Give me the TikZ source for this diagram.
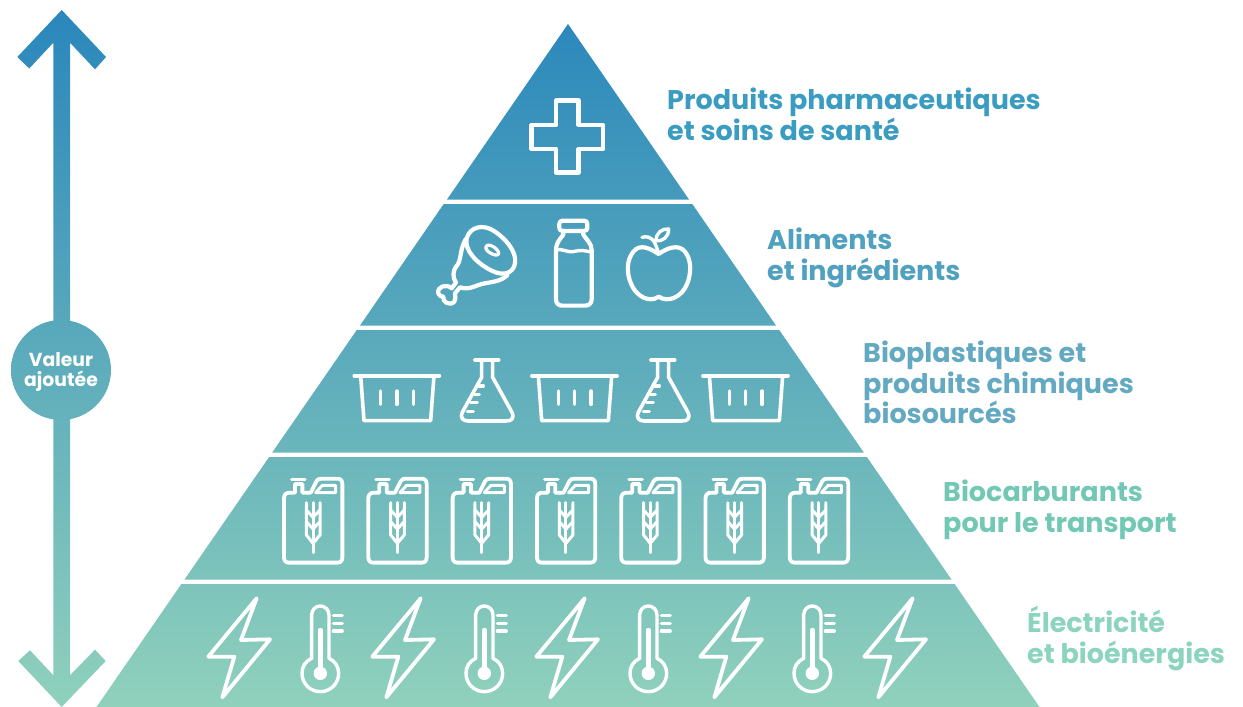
\documentclass[tikz,border=0pt]{standalone}
\usepackage{fontspec}
\setmainfont{Poppins}
\definecolor{gtop}{HTML}{2A87BC}
\definecolor{gmid}{HTML}{5EA6BF}
\definecolor{gbot}{HTML}{90D1BC}
\definecolor{lab1}{HTML}{3A9CC1}
\definecolor{lab2}{HTML}{4FA1BF}
\definecolor{lab3}{HTML}{64A9C2}
\definecolor{lab4}{HTML}{72C8B5}
\definecolor{lab5}{HTML}{8DD4BF}
\tikzset{
  ico/.style={draw=white,line width=#1,line join=round,line cap=round},
  ico/.default=4.2pt,
  lab/.style={anchor=north west,inner sep=0pt,align=left,font=\bfseries\fontsize{27}{30.5}\selectfont},
  zoomA/.style={shift={(420,80)},x=0.3333pt,y=-0.3333pt},
  zoomB/.style={shift={(340,340)},x=0.3333pt,y=-0.3333pt},
  zoomC/.style={shift={(190,590)},x=0.3333pt,y=-0.3333pt},
}
\newcommand{\basket}[1]{\begin{scope}[zoomB,xshift=#1pt]
 \draw[ico=3.8pt] (43,107)--(298,107);
 \draw[ico=3.6pt] (62,107)--(72,242)--(272,242)--(282,107);
 \foreach \x in {122,171,220}\draw[ico=3.4pt] (\x,153)--(\x,193);
\end{scope}}
\newcommand{\flask}[1]{\begin{scope}[zoomB,xshift=#1pt]
 \draw[ico=3.8pt] (405,60)--(476,60);
 \draw[ico=3.6pt] (425,60)--(425,112)--(368,215) .. controls (358,235) and (370,243) .. (385,243)--(498,243) .. controls (515,243) and (525,235) .. (515,215)--(458,112)--(458,60);
 \draw[ico=3.4pt] (412,138)--(430,138) (402,163)--(418,163) (392,187)--(412,187) (382,214)--(400,214);
\end{scope}}
\newcommand{\jerry}[1]{\begin{scope}[zoomB,xshift=#1pt]
 \draw[ico=3.2pt] (108,418)--(148,418);
 \draw[ico=3.8pt] (85,475) .. controls (85,463) and (92,458) .. (102,458)--(118,458)--(118,432)--(140,432)--(140,458)--(165,458)
   --(182,424) .. controls (185,418) and (190,416) .. (197,416)--(245,416) .. controls (255,416) and (260,422) .. (260,432)--(260,652)
   .. controls (260,662) and (255,668) .. (245,668)--(100,668) .. controls (90,668) and (85,662) .. (85,652)--cycle;
 \draw[ico=3pt] (180,458)--(240,458)--(240,436)--(200,436)--cycle;
 \draw[ico=3pt] (172,488)--(172,638);
 \draw[ico=3pt] (152,488)--(152,585)--(172,610)--(193,585)--(193,488);
 \draw[ico=3pt] (152,510)--(172,532)--(193,510) (152,545)--(172,567)--(193,545);
\end{scope}}
\newcommand{\bolt}[1]{\begin{scope}[zoomC,xshift=#1pt]
 \draw[ico=3.8pt] (200,25)--(55,200)--(133,200)--(97,322)--(240,148)--(153,150)--cycle;
\end{scope}}
\newcommand{\thermo}[1]{\begin{scope}[zoomC,xshift=#1pt]
 \draw[ico=3.4pt] (365,205)--(365,75) .. controls (365,58) and (378,48) .. (391,48) .. controls (404,48) and (417,58) .. (417,75)--(417,205)
   .. controls (436,214) and (446,230) .. (446,250) .. controls (446,282) and (420,305) .. (391,305) .. controls (362,305) and (336,282) .. (336,250) .. controls (336,230) and (346,214) .. (365,205)--cycle;
 \draw[ico=4.4pt] (391,120)--(391,250);
 \fill[white] (371,250) .. controls (371,238) and (380,230) .. (391,230) .. controls (402,230) and (411,238) .. (411,250) .. controls (411,262) and (402,270) .. (391,270) .. controls (380,270) and (371,262) .. (371,250)--cycle;
 \draw[ico=3.2pt] (430,77)--(457,77) (430,100)--(457,100) (430,123)--(457,123);
\end{scope}}
\begin{document}
\begin{tikzpicture}[x=1pt,y=-1pt]
\useasboundingbox (0,0) rectangle (1243,707);
\begin{scope}
 \clip (568,24)--(689,199.5)--(447,199.5)--cycle
  (443.7,204)--(692.3,204)--(776,325.5)--(360,325.5)--cycle
  (356.8,330)--(779.2,330)--(863.8,452.5)--(272.2,452.5)--cycle
  (269.1,457)--(866.9,457)--(951.5,579.5)--(184.5,579.5)--cycle
  (181.4,584)--(954.6,584)--(1039.5,707)--(96.5,707)--cycle
  (61.7,10)--(106,57)--(95,69.3)--(70,42.7)--(70,675.3)--(95,649.7)--(105.7,661)--(61.7,707)--(18.3,661)--(30,650.3)--(53.3,675.3)--(53.3,42.7)--(29.3,68.5)--(17.3,57)--cycle
  (111,370) .. controls (111,397.6) and (88.6,420) .. (61,420) .. controls (33.4,420) and (11,397.6) .. (11,370) .. controls (11,342.4) and (33.4,320) .. (61,320) .. controls (88.6,320) and (111,342.4) .. (111,370)--cycle;
 \shade[top color=gtop,middle color=gmid,bottom color=gbot] (0,10) rectangle (1243,707);
\end{scope}
\node[inner sep=0pt,align=center,text=white,font=\bfseries\fontsize{18.8}{20}\selectfont] (valeur) at (61,372) {Valeur\\ajoutée};
% cross
\draw[ico] (556,100.5)--(578.5,100.5)--(578.5,125)--(603,125)--(603,149)--(578.5,149)--(578.5,172.5)--(556,172.5)--(556,149)--(531.5,149)--(531.5,125)--(556,125)--cycle;
% ham, bottle, apple
\begin{scope}[zoomA]
 \draw[ico] (140,475) .. controls (150,440) and (190,430) .. (225,455) .. controls (265,482) and (290,520) .. (285,550) .. controls (280,580) and (250,590) .. (215,572) .. controls (170,550) and (132,510) .. (140,475)--cycle;
 \draw[ico=3.2pt] (198,500) .. controls (205,485) and (240,510) .. (236,522) .. controls (228,533) and (192,512) .. (198,500)--cycle;
 \draw[ico] (137,478) .. controls (118,510) and (125,545) .. (108,560) .. controls (98,572) and (98,595) .. (108,608)--(95,625)
   .. controls (80,610) and (50,620) .. (55,640) .. controls (58,648) and (62,650) .. (70,650) .. controls (65,665) and (90,680) .. (103,665) .. controls (108,658) and (106,650) .. (105,640)--(120,622)
   .. controls (150,632) and (165,615) .. (195,610) .. controls (220,605) and (240,605) .. (262,586);
 \draw[ico] (428,422)--(492,422) .. controls (499,422) and (502,426) .. (502,432)--(502,443) .. controls (502,449) and (499,453) .. (492,453)--(428,453) .. controls (421,453) and (418,449) .. (418,443)--(418,432) .. controls (418,426) and (421,422) .. (428,422)--cycle;
 \draw[ico] (430,453)--(430,464) .. controls (418,480) and (408,490) .. (408,510)--(408,658) .. controls (408,670) and (415,677) .. (427,677)--(495,677) .. controls (507,677) and (515,670) .. (515,658)--(515,510) .. controls (515,490) and (500,480) .. (490,464)--(490,453);
 \draw[ico=3.4pt] (408,510) .. controls (430,505) and (440,518) .. (460,515) .. controls (480,510) and (490,510) .. (515,517);
 \draw[ico] (716,522) .. controls (690,505) and (660,490) .. (640,515) .. controls (620,540) and (618,580) .. (635,615) .. controls (650,650) and (690,670) .. (716,650) .. controls (745,670) and (785,650) .. (800,615) .. controls (815,580) and (815,540) .. (795,515) .. controls (775,490) and (740,505) .. (716,522)--cycle;
 \draw[ico=3.4pt] (716,518)--(705,490) .. controls (695,470) and (680,468) .. (666,472);
 \draw[ico=3.4pt] (708,482) .. controls (708,460) and (725,445) .. (746,447) .. controls (746,470) and (730,485) .. (708,482)--cycle;
\end{scope}
% baskets and flasks
\basket{0}\basket{177.7}\basket{348.7}
\flask{0}\flask{176}
% jerrycans
\foreach \i in {-1,0,...,5}{\pgfmathsetmacro{\xo}{\i*84.3}\jerry{\xo}}
% bolts and thermometers
\foreach \i in {0,...,4}{\pgfmathsetmacro{\xo}{\i*164}\bolt{\xo}}
\foreach \i in {0,...,3}{\pgfmathsetmacro{\xo}{\i*164}\thermo{\xo}}
% labels
\node[lab,text=lab1] (l1) at (667,88) {Produits pharmaceutiques\\et soins de santé};
\node[lab,text=lab2] (l2) at (767,228) {Aliments\\et ingrédients};
\node[lab,text=lab3] (l3) at (863,341) {Bioplastiques et\\produits chimiques\\biosourcés};
\node[lab,text=lab4] (l4) at (943,480) {Biocarburants\\pour le transport};
\node[lab,text=lab5] (l5) at (1027,606) {Électricité\\et bioénergies};
\end{tikzpicture}
\end{document}
